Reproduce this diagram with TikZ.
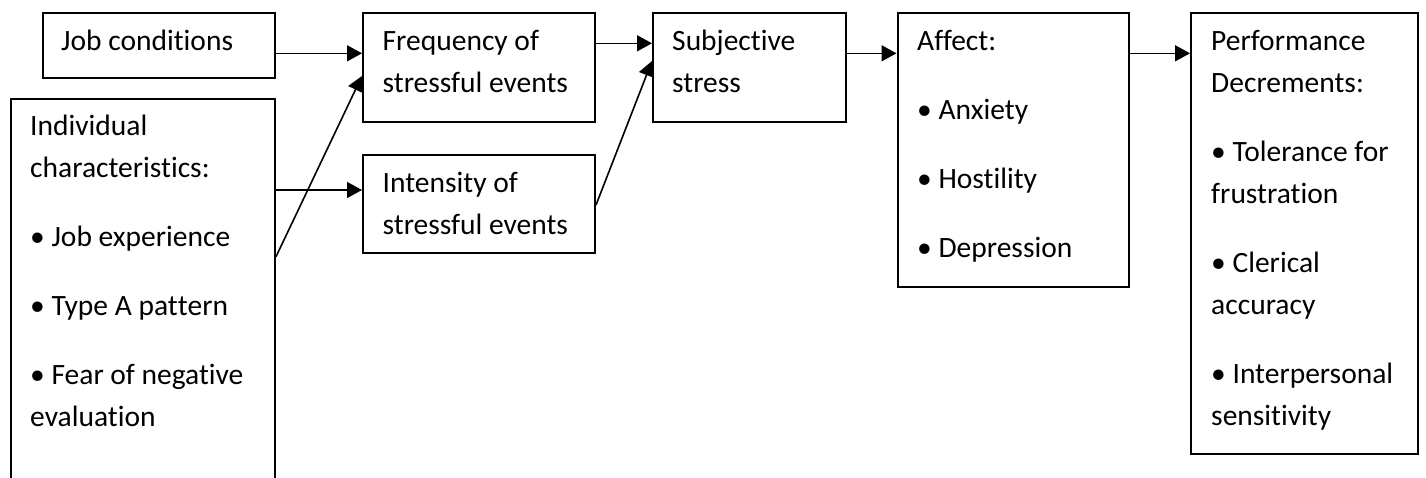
\documentclass[tikz,border=0pt]{standalone}
\usepackage{fontspec}
\newfontfamily\boxfont[RawFeature={-liga;-clig;-dlig}]{Carlito}
\newcommand\zk{\kern0pt{}}
\usetikzlibrary{arrows.meta}
\begin{document}
\begin{tikzpicture}[x=1pt,y=-1pt,
  box/.style={draw, line width=2pt, inner sep=0pt, anchor=north west},
  lbl/.style={anchor=base west, inner sep=0pt, font=\boxfont\fontsize{29.5}{42}\selectfont},
  arr/.style={line width=1.6pt, -{Triangle[length=15pt,width=16pt]}}]
\useasboundingbox (0,0) rectangle (1426,477);
\clip (0,0) rectangle (1426,477);
% boxes
\node[box, minimum width=232.5pt, minimum height=65pt] (job) at (41.5,12) {};
\node[box, minimum width=264pt, minimum height=400pt] (indiv) at (10,98) {};
\node[box, minimum width=232pt, minimum height=109pt] (freq) at (362,12) {};
\node[box, minimum width=232pt, minimum height=98pt] (inten) at (362,154) {};
\node[box, minimum width=193pt, minimum height=109pt] (subj) at (652,12) {};
\node[box, minimum width=231pt, minimum height=274pt] (affect) at (896.5,12) {};
\node[box, minimum width=227pt, minimum height=441pt] (perf) at (1190,12) {};
% texts
\node[lbl] (tjob) at (61,50) {Job condit\zk ions};
\node[lbl] (tfreq) at (382.5,50) {\begin{tabular}[t]{@{}l@{}}Frequency of\\stressful events\end{tabular}};
\node[lbl] (tinten) at (382.5,192) {\begin{tabular}[t]{@{}l@{}}Intensity of\\stressful events\end{tabular}};
\node[lbl] (tindiv) at (30,135) {\begin{tabular}[t]{@{}l@{}}Individual\\characterist\zk ics:\\[27pt]• Job experience\\[27pt]• Type A pat\zk t\zk ern\\[27pt]• Fear of negat\zk ive\\evaluat\zk ion\end{tabular}};
\node[lbl] (tsubj) at (672,50) {\begin{tabular}[t]{@{}l@{}}Subject\zk ive\\stress\end{tabular}};
\node[lbl] (taffect) at (917,50) {\begin{tabular}[t]{@{}l@{}}Affect:\\[27pt]• Anxiety\\[27pt]• Hostilit\zk y\\[27pt]• Depression\end{tabular}};
\node[lbl] (tperf) at (1211,50) {\begin{tabular}[t]{@{}l@{}}Performance\\Decrements:\\[27pt]• Tolerance for\\frustrat\zk ion\\[27pt]• Clerical\\accuracy\\[27pt]• Interpersonal\\sensit\zk ivit\zk y\end{tabular}};
% y levels
\coordinate (ya) at (0,53.3);
\coordinate (yb) at (0,190);
\coordinate (yc1) at (0,256.7);
\coordinate (yc2) at (0,76);
\coordinate (yd) at (0,43.3);
\coordinate (ye1) at (0,205);
\coordinate (ye2) at (0,61);
% connectors
\draw[arr] (job.east |- ya) -- (freq.west |- ya);
\draw[arr] (indiv.east |- yb) -- (inten.west |- yb);
\draw[arr] (indiv.east |- yc1) -- (freq.west |- yc2);
\draw[arr] (freq.east |- yd) -- (subj.west |- yd);
\draw[arr] (inten.east |- ye1) -- (subj.west |- ye2);
\draw[arr] (subj.east |- ya) -- (affect.west |- ya);
\draw[arr] (affect.east |- ya) -- (perf.west |- ya);
\end{tikzpicture}
\end{document}
